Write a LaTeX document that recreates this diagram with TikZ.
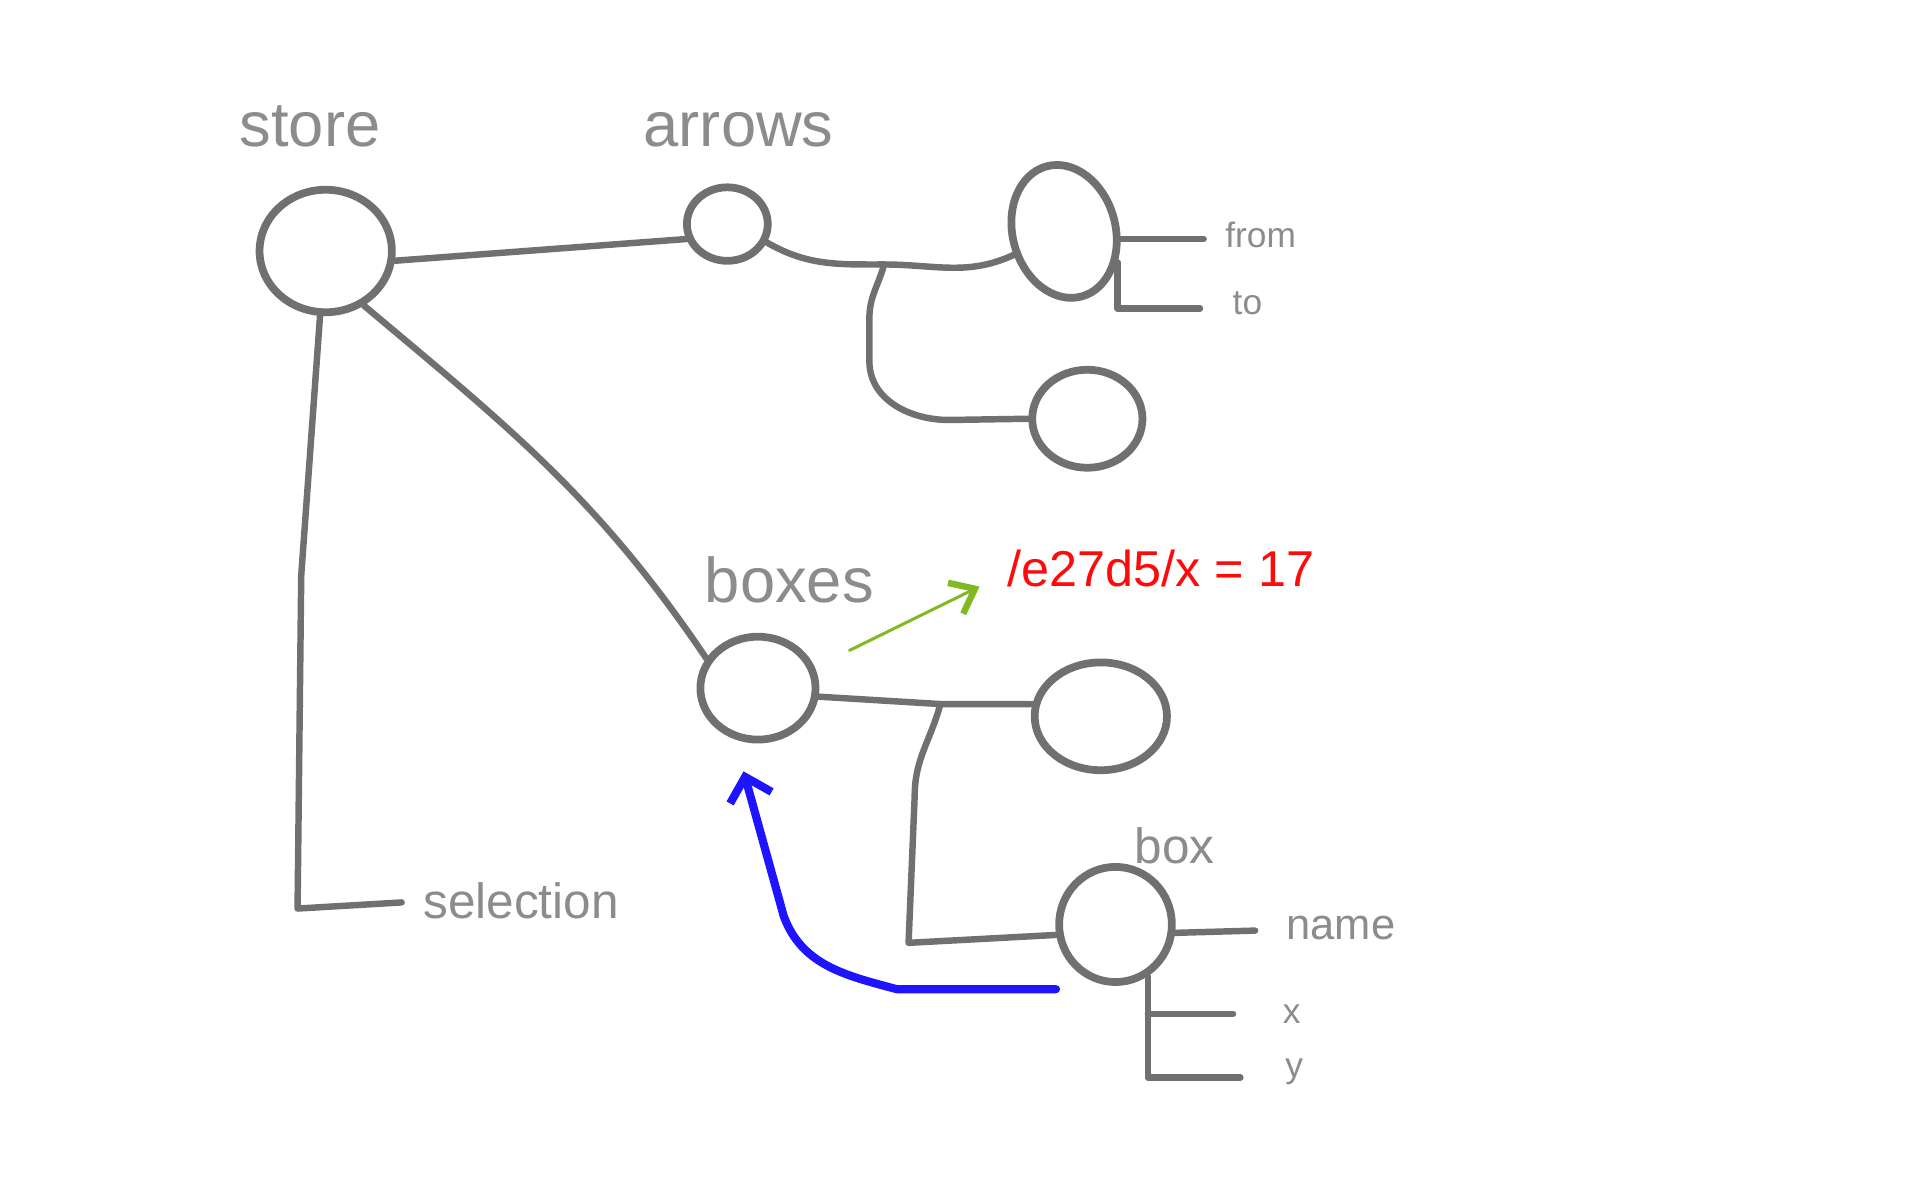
\documentclass[tikz,border=0pt]{standalone}
\usepackage{fontspec}
\setmainfont{Liberation Sans}
\usetikzlibrary{arrows.meta,shapes.geometric}
\newcommand\fsz[1]{\fontsize{#1}{#1}\selectfont}
\definecolor{wire_gray}{RGB}{112,112,112}
\definecolor{text_gray}{RGB}{140,140,140}
\definecolor{val_red}{RGB}{255,10,10}
\definecolor{edge_green}{RGB}{130,185,35}
\definecolor{edge_blue}{RGB}{30,20,255}

\begin{document}
\begin{tikzpicture}[x=0.01cm,y=-0.01cm,line cap=round,line join=round]
    \tikzstyle{obj}=[draw=wire_gray, ellipse, line width=1.8pt, inner sep=0pt, fill=none]
    \tikzstyle{wire}=[draw=wire_gray, line width=1.5pt]
    \tikzstyle{lbl}=[anchor=base west, inner sep=0pt, text=text_gray]
    \tikzstyle{lbl_big}=[style=lbl, font=\fsz{14.7}]
    \tikzstyle{lbl_mid}=[style=lbl, font=\fsz{11.5}]
    \tikzstyle{lbl_small}=[style=lbl, font=\fsz{8.2}]
    \tikzstyle{drag_arrow}=[draw=edge_blue, line width=1.9pt, -{Straight Barb[length=5pt,width=10pt]}]
    \tikzstyle{set_arrow}=[draw=edge_green, line width=0.7pt, -{Straight Barb[length=5pt,width=8pt,line width=1.5pt]}]

    \useasboundingbox (0,0) rectangle (1568,980);

    % objects of the state tree
    \node[obj, minimum width=1.08cm, minimum height=1.00cm] (store)    at (266,205) {};
    \node[obj, minimum width=0.66cm, minimum height=0.60cm] (arrows)   at (594,183) {};
    \node[obj, minimum width=0.84cm, minimum height=1.10cm, rotate=15] (arrows_a) at (869,189) {};
    \node[obj, minimum width=0.90cm, minimum height=0.80cm] (arrows_b) at (888,342) {};
    \node[obj, minimum width=0.94cm, minimum height=0.84cm] (boxes)    at (619,562) {};
    \node[obj, minimum width=1.08cm, minimum height=0.88cm] (boxes_a)  at (899,585) {};
    \node[obj, minimum width=0.92cm, minimum height=0.94cm] (box)      at (911,755) {};

    \node[lbl_big] (store_lbl)  at (195,120) {store};
    \node[lbl_big] (arrows_lbl) at (525,120) {arrows};
    \node[lbl_big] (boxes_lbl)  at (575,492) {boxes};
    \node[lbl_mid] (box_lbl)    at (926,705) {box};
    \node[lbl_mid] (sel_lbl)    at (345,750) {selection};
    \node[lbl_small, font=\fsz{10.1}] (name_lbl) at (1050,767) {name};
    \node[lbl_small] (from_lbl) at (1000,202) {from};
    \node[lbl_small] (to_lbl)   at (1006,257) {to};
    \node[lbl_small] (x_lbl)    at (1047,836) {x};
    \node[lbl_small] (y_lbl)    at (1049,880) {y};
    \node[lbl, text=val_red, font=\fsz{11.7}] (val) at (822,479) {/e27d5/x = 17};

    \coordinate (fork_a)   at (722,216);
    \coordinate (fork_b)   at (768,575);
    \coordinate (from_end) at (983,195);
    \coordinate (to_end)   at (980,252);
    \coordinate (sel_end)  at (328,737);
    \coordinate (name_end) at (1025,760);
    \coordinate (x_end)    at (1007,828);
    \coordinate (y_end)    at (1013,880);

    \path[wire]
     (store.-8) edge (arrows.200)
     (store.-55) edge[out=-40,in=124] (boxes.150)
     (arrows_a.-12 |- from_end) edge (from_end)
     (box.-8) edge (name_end)
     (box.-58 |- x_end) edge (x_end)
     ;
    \draw[wire] (arrows.-25) to[out=-30,in=180] (fork_a) to[out=0,in=205] (arrows_a.190);
    \draw[wire] (fork_a) to[out=-105,in=90] (710,260) -- (710,295) to[out=-90,in=180] (775,343) -- (arrows_b.180);
    \draw[wire] (arrows_a.-45) |- (to_end);
    \draw[wire] (store.-95) -- (246,470) -- (243,742) -- (sel_end);
    \draw[wire] (boxes.-8) -- (fork_b) -- (boxes_a.170);
    \draw[wire] (fork_b) to[out=-105,in=90] (747,650) -- (742,770) -- (box.190);
    \draw[wire] (box.-58) |- (y_end);

    \draw[drag_arrow] ([shift={(-0.2cm,-0.12cm)}]box.235) -- ++(-130,0)
      to[out=165,in=-70] (640,748) -- ([yshift=-0.24cm]boxes.-105);
    \draw[set_arrow] ([xshift=0.38cm]boxes.40) -- ([xshift=-0.22cm]val.base west);
\end{tikzpicture}
\end{document}
